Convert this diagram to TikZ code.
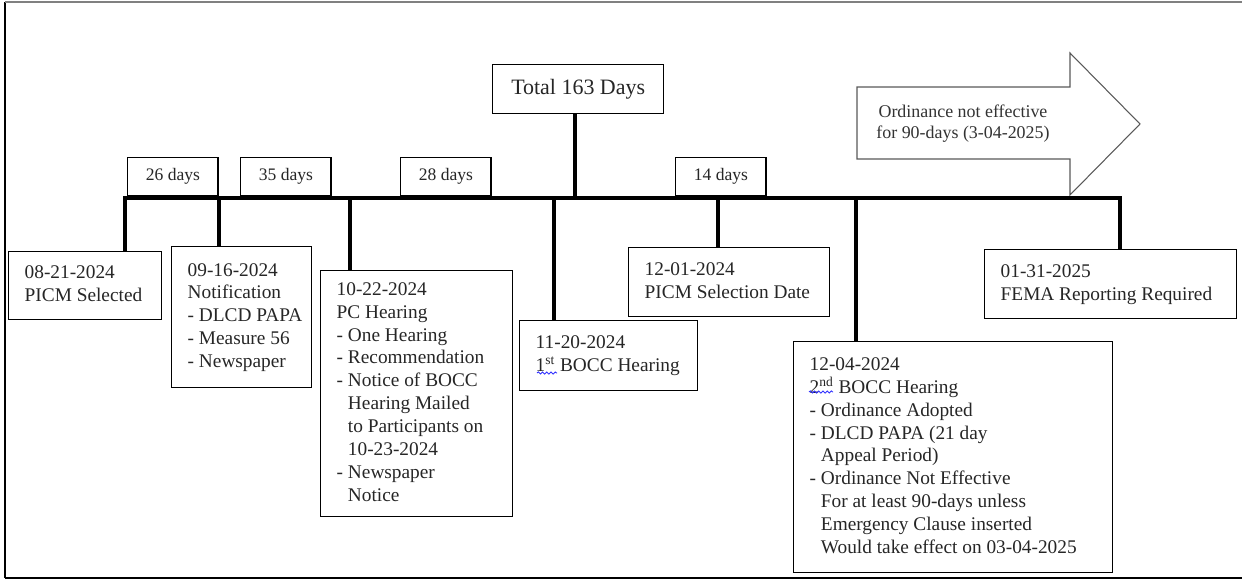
\documentclass[tikz,border=0pt]{standalone}
\usepackage{fontspec}
\setmainfont{Liberation Serif}
\usetikzlibrary{positioning,calc,decorations.pathmorphing}

\tikzset{
  evbox/.style={draw, line width=0.8pt, anchor=north west, inner xsep=0.32cm, inner ysep=0pt,
    text=black!85, font=\fontsize{11}{13}\selectfont},
  daybox/.style={draw, line width=0.8pt, anchor=north west, inner sep=0pt, text=black!85,
    minimum width=1.81cm, minimum height=0.76cm, font=\fontsize{10}{12}\selectfont},
  tline/.style={line width=2.3pt},
}
% lines of an event box, left aligned in a box of fixed width
\newcommand{\evlines}[2]{\makebox[#1][l]{\begin{tabular}{@{}l@{}}#2\end{tabular}}}
\newcommand{\hang}{\hphantom{-\ }}

\begin{document}
\begin{tikzpicture}[x=0.02cm,y=-0.02cm]
\useasboundingbox (0,0) rectangle (1242,580);
\draw[line width=1.6pt] (5,2) -- (5,578);
\draw[gray, line width=0.8pt] (5,2) -- (1242,2);
\draw[line width=1.2pt] (5,578) -- (1242,578);

% arrow
\draw[gray!70!black, line width=0.6pt, fill=white] (857,87) -- (1070,87) -- (1070,53) -- (1140,124)
  -- (1070,195) -- (1070,159) -- (857,159) -- cycle;
\node[align=center, text=black!80, font=\fontsize{10.2}{12}\selectfont] (effect) at (963,124)
  {Ordinance not effective\\for 90-days (3-04-2025)};

% timeline
\coordinate (t1) at (125,198);
\coordinate (t2) at (219,198);
\coordinate (t3) at (350,198);
\coordinate (t4) at (554,198);
\coordinate (tt) at (575,198);
\coordinate (t5) at (718,198);
\coordinate (t6) at (856,198);
\coordinate (t7) at (1120,198);

\node[draw, line width=0.8pt, anchor=north west, minimum width=3.42cm, minimum height=0.98cm,
  text=black!85, font=\fontsize{12.5}{14}\selectfont] (total) at (492,64) {Total 163 Days};

\node[daybox] (d26) at (127,157) {26 days};
\node[daybox] (d35) at (240,157) {35 days};
\node[daybox] (d28) at (400,157) {28 days};
\node[daybox] (d14) at (675,157) {14 days};

\node[evbox, minimum height=1.36cm] (ev1) at (8,251)
  {\evlines{2.42cm}{08-21-2024\\PICM Selected}};
\node[evbox, minimum height=2.82cm] (ev2) at (171,246)
  {\evlines{2.16cm}{09-16-2024\\Notification\\- DLCD PAPA\\- Measure 56\\- Newspaper}};
\node[evbox, minimum height=4.92cm] (ev3) at (320,270)
  {\evlines{3.2cm}{10-22-2024\\PC Hearing\\- One Hearing\\- Recommendation\\- Notice of BOCC\\
   \hang Hearing Mailed\\\hang to Participants on\\\hang 10-23-2024\\- Newspaper\\\hang Notice}};
\node[evbox, minimum height=1.4cm] (ev4) at (519,320)
  {\evlines{2.92cm}{11-20-2024\\1\textsuperscript{st} BOCC Hearing}};
\node[evbox, minimum height=1.38cm] (ev5) at (628,247)
  {\evlines{3.38cm}{12-01-2024\\PICM Selection Date}};
\node[evbox, minimum height=4.62cm] (ev6) at (793,341)
  {\evlines{5.74cm}{12-04-2024\\2\textsuperscript{nd} BOCC Hearing\\- Ordinance Adopted\\
   - DLCD PAPA (21 day\\\hang Appeal Period)\\- Ordinance Not Effective\\\hang For at least 90-days unless\\
   \hang Emergency Clause inserted\\\hang Would take effect on 03-04-2025}};
\node[evbox, minimum height=1.38cm] (ev7) at (984,249)
  {\evlines{4.4cm}{01-31-2025\\FEMA Reporting Required}};

\draw[tline] (t1 |- ev1.north) -- (t1) -- (t7) -- (t7 |- ev7.north);
\draw[tline] (t2) -- (t2 |- ev2.north);
\draw[tline] (t3) -- (t3 |- ev3.north);
\draw[tline] (t4) -- (t4 |- ev4.north);
\draw[tline] (t5) -- (t5 |- ev5.north);
\draw[tline] (t6) -- (t6 |- ev6.north);
\draw[tline] (tt) -- (tt |- total.south);

% spell check marks
\draw[blue!80, line width=0.5pt, decorate, decoration={snake, amplitude=0.6pt, segment length=2.4pt}]
  (537,373) -- (557,373);
\draw[blue!80, line width=0.5pt, decorate, decoration={snake, amplitude=0.6pt, segment length=2.4pt}]
  (809,392) -- (833,392);
\end{tikzpicture}
\end{document}
